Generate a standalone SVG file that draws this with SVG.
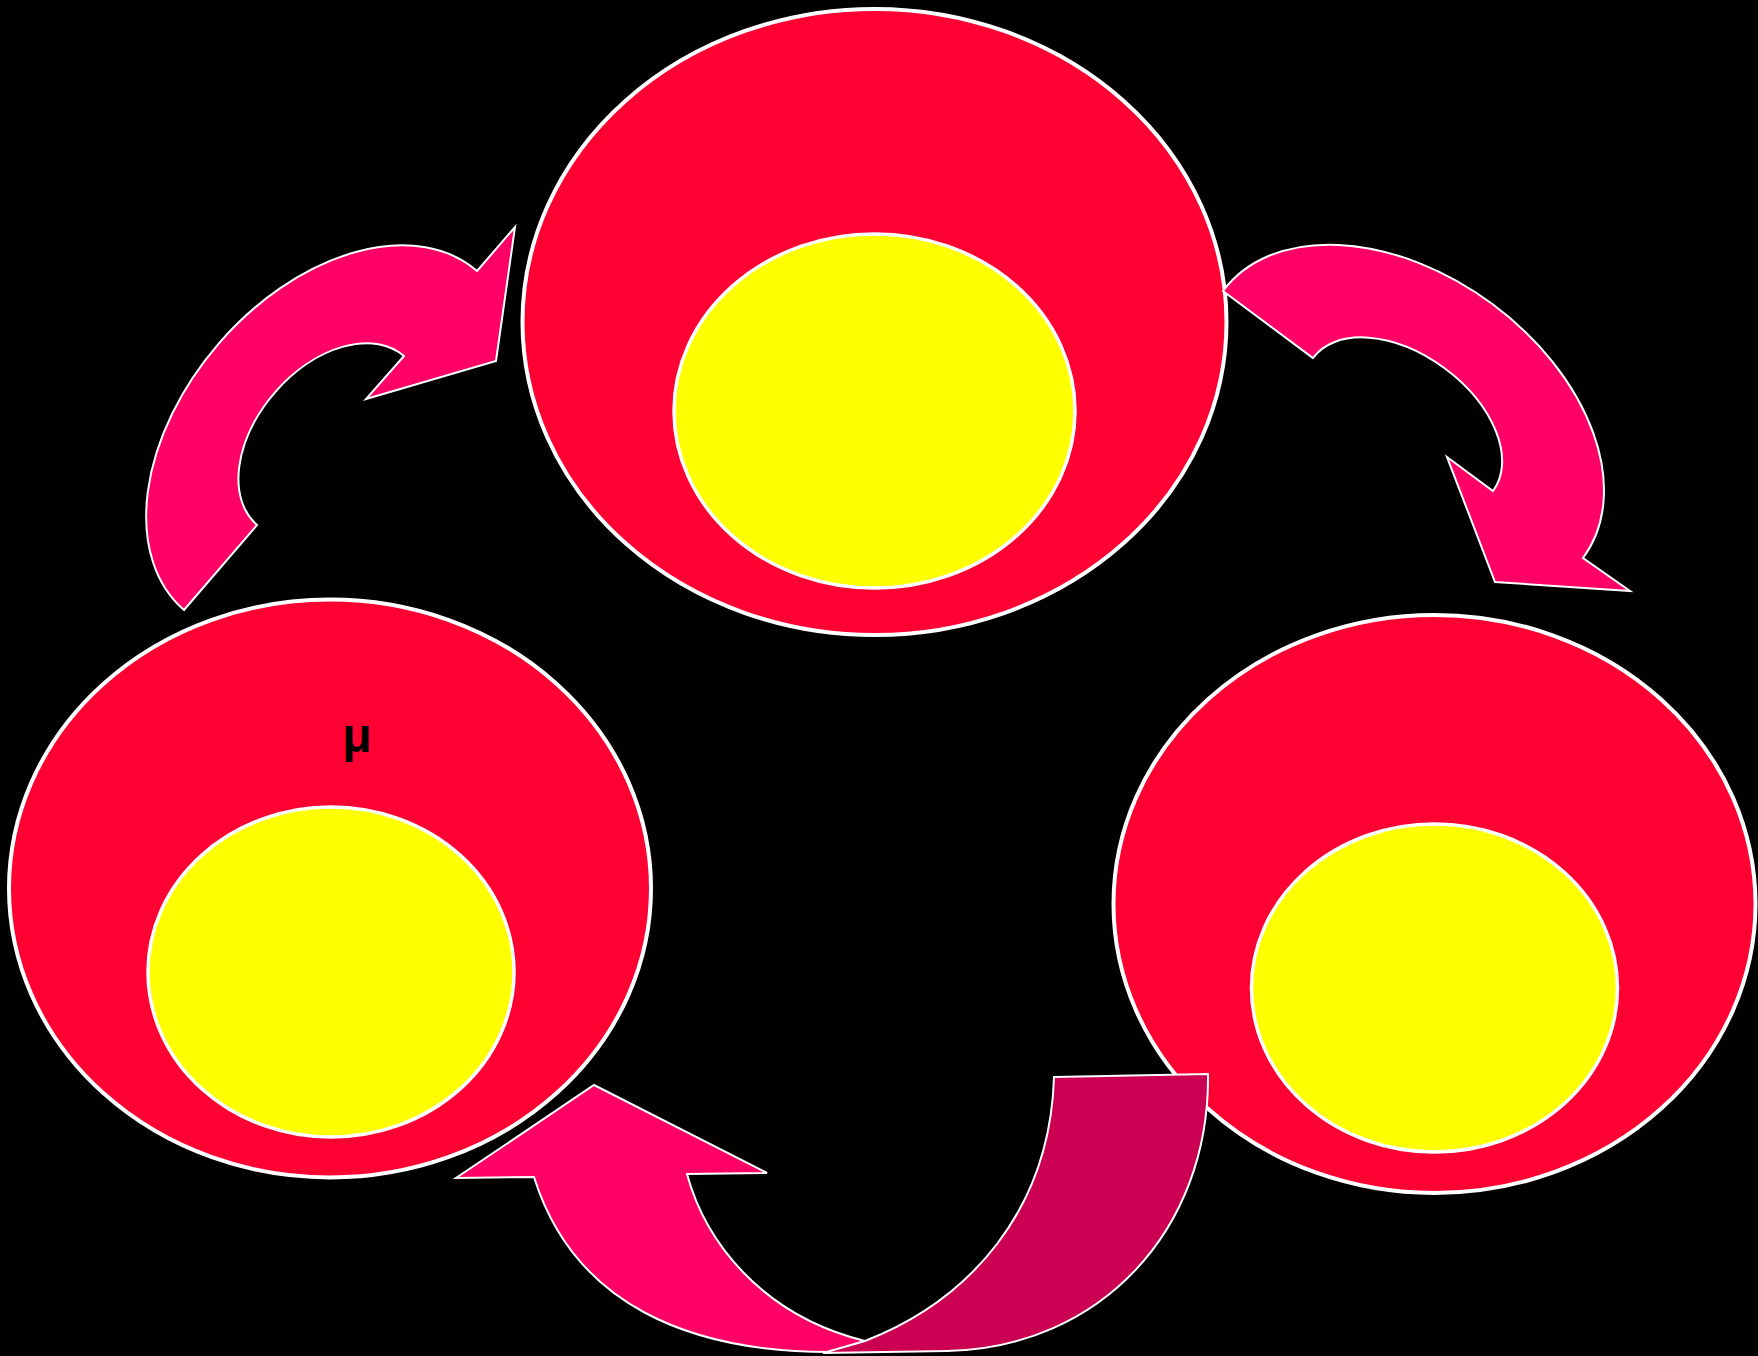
<svg xmlns="http://www.w3.org/2000/svg" width="1758" height="1356" viewBox="0 0 1758 1356">
  <style>
    .outer { fill: #FF0033; stroke: #FFFFFF; stroke-width: 4; }
    .inner { fill: #FFFF00; stroke: #FFFFFF; stroke-width: 3.5; }
    .arrow { fill: #FF0066; stroke: #FFFFFF; stroke-width: 2; stroke-linejoin: miter; }
    .arrow-dark { fill: #CC0052; stroke: #FFFFFF; stroke-width: 2; }
    .label { font-family: "Liberation Sans", Arial, sans-serif; font-weight: bold; font-size: 48px; fill: #000000; }
  </style>
  <rect x="0" y="0" width="1758" height="1356" fill="#000000"/>
  <g id="node-top">
    <ellipse class="outer" cx="874.5" cy="322" rx="352" ry="313"/>
    <ellipse class="inner" cx="874.5" cy="411" rx="200.5" ry="177"/>
  </g>
  <g id="node-left">
    <ellipse class="outer" cx="330" cy="888.5" rx="321" ry="289"/>
    <ellipse class="inner" cx="331" cy="972" rx="183" ry="165"/>
    <text class="label" x="357" y="752" text-anchor="middle">μ</text>
  </g>
  <g id="node-right">
    <ellipse class="outer" cx="1434.5" cy="904" rx="321" ry="289"/>
    <ellipse class="inner" cx="1434.5" cy="988" rx="183" ry="164"/>
  </g>
  <g id="connectors">
    <path id="arrow-left-to-top" class="arrow" d="M184,610 A224,148 -49.2 0 1 218.5,343.8 A224,148 -49.2 0 1 477,271 L515,227 L496,361 L366,399 L404,356 A112,73.5 -49 0 0 275,392.3 A112,73.5 -49 0 0 257,525 Z"/>
    <path id="arrow-top-to-right" class="arrow" d="M1223,291 A224.1,150 36.56 0 1 1492.4,304 A224.1,150 36.56 0 1 1583,558 L1630,591 L1495,582 L1447,457 L1493,491 A111.9,70 36.46 0 0 1444.6,368.2 A111.9,70 36.46 0 0 1313,358 Z"/>
    <path id="arrow-right-to-left" class="arrow" d="M534,1177 L456,1178 L594,1085 L767,1173 L687,1174 C705,1240 760,1315 865,1341 L830,1352 C690,1352 574,1305 534,1177 Z"/>
    <path id="arrow-right-to-left-back" class="arrow-dark" d="M1054,1077 L1208,1074 C1210,1230 1100,1348 947,1351 L823,1353 L865,1341 C970,1300 1050,1210 1054,1077 Z"/>
  </g>
</svg>
